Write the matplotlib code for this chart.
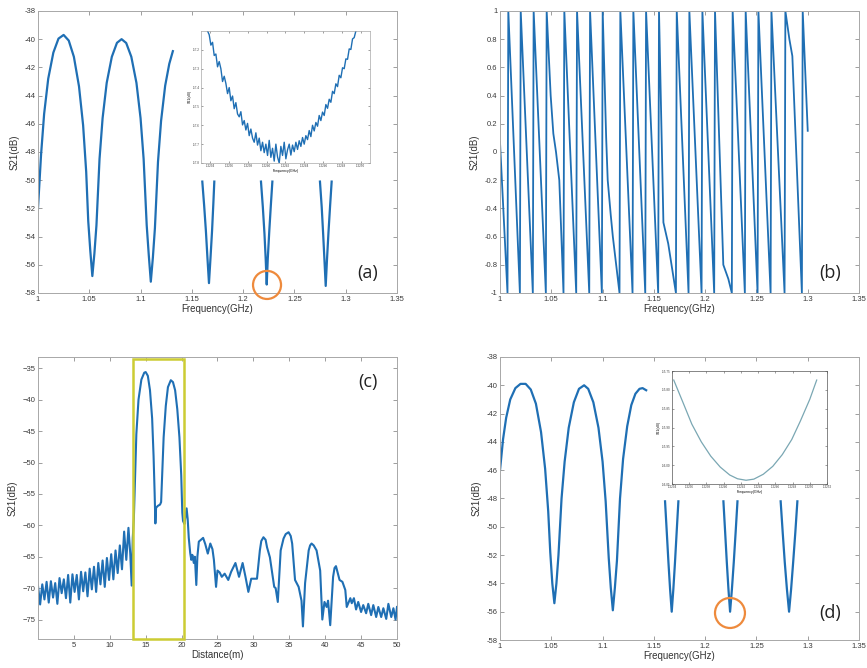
import numpy as np
import matplotlib
matplotlib.use('Agg')
from matplotlib import pyplot as plt
from matplotlib.patches import Ellipse, Rectangle
from matplotlib.ticker import FormatStrFormatter

plt.rcParams['font.family'] = ['Liberation Sans', 'DejaVu Sans']

# ---- (a) measured |S21|, main arches and the three short dip segments
a_f = [1.000, 1.003, 1.006, 1.010, 1.015, 1.020, 1.025, 1.030, 1.035, 1.040,
       1.044, 1.047, 1.049, 1.051, 1.053, 1.055, 1.057, 1.060, 1.063, 1.067,
       1.072, 1.077, 1.0815, 1.086, 1.091, 1.096, 1.100, 1.103, 1.106, 1.108,
       1.110, 1.112, 1.114, 1.117, 1.120, 1.124, 1.128, 1.1315]
a_db = [-52.0, -48.2, -45.3, -42.8, -40.95, -39.96, -39.7, -40.1, -41.25, -43.35,
        -46.1, -49.4, -52.9, -55.0, -56.8, -55.2, -53.2, -48.5, -45.6, -43.1,
        -41.25, -40.26, -40.0, -40.27, -41.25, -43.1, -45.6, -48.5, -53.2, -55.3,
        -57.2, -55.5, -53.4, -48.7, -45.8, -43.3, -41.75, -40.85]
a_dip_f = [[1.1602, 1.1620, 1.1637, 1.1652, 1.1667, 1.1682, 1.1697, 1.1710, 1.1719],
           [1.2174, 1.2192, 1.2208, 1.2220, 1.2230, 1.2240, 1.2255, 1.2270, 1.2285],
           [1.2749, 1.2766, 1.2780, 1.2793, 1.2805, 1.2817, 1.2832, 1.2848, 1.2863]]
a_dip_db = [[-50.1, -51.8, -53.6, -55.5, -57.3, -55.5, -53.6, -51.6, -50.1],
            [-50.1, -51.9, -53.8, -55.6, -57.4, -55.6, -53.6, -51.8, -50.1],
            [-50.1, -51.9, -53.8, -55.7, -57.5, -55.7, -53.7, -51.8, -50.1]]

# inset (a): zoom on the circled dip (noisy)
ia_db = [-57.100, -57.120, -57.175, -57.160, -57.230, -57.222, -57.290, -57.262, -57.300, -57.368,
         -57.340, -57.378, -57.432, -57.400, -57.470, -57.445, -57.512, -57.480, -57.540, -57.555,
         -57.528, -57.598, -57.575, -57.625, -57.590, -57.655, -57.620, -57.668, -57.690, -57.640,
         -57.705, -57.668, -57.735, -57.690, -57.745, -57.700, -57.760, -57.680, -57.770, -57.722,
         -57.790, -57.700, -57.768, -57.800, -57.712, -57.760, -57.690, -57.778, -57.730, -57.700,
         -57.758, -57.705, -57.740, -57.690, -57.728, -57.682, -57.712, -57.665, -57.700, -57.655,
         -57.676, -57.628, -57.660, -57.600, -57.630, -57.585, -57.605, -57.548, -57.575, -57.530,
         -57.548, -57.490, -57.510, -57.462, -57.478, -57.420, -57.432, -57.380, -57.395, -57.335,
         -57.348, -57.295, -57.300, -57.248, -57.250, -57.195, -57.198, -57.142, -57.135, -57.100]
ia_f = np.linspace(1.22337, 1.22495, len(ia_db))
ia_xticks = [1.2234, 1.2236, 1.2238, 1.2240, 1.2242, 1.2244, 1.2246, 1.2248, 1.2250]
ia_yticks = [-57.8, -57.7, -57.6, -57.5, -57.4, -57.3, -57.2]

# ---- (b) wrapped phase
b_f = [1.000, 1.0073, 1.0081, 1.0194, 1.0202, 1.0320, 1.0328, 1.0447, 1.0455,
       1.0494, 1.0520, 1.0546, 1.0578, 1.0619, 1.0627, 1.0743, 1.0751, 1.0870, 1.0878,
       1.0993, 1.1001, 1.1035, 1.1050, 1.1080, 1.1100, 1.1165, 1.1173, 1.1292, 1.1300,
       1.1416, 1.1424, 1.1542, 1.1550, 1.1593, 1.1640, 1.1715, 1.1723, 1.1838, 1.1846,
       1.1965, 1.1973, 1.2088, 1.2096, 1.2177, 1.2226, 1.2260, 1.2268, 1.2387, 1.2395,
       1.2511, 1.2519, 1.2638, 1.2646, 1.2774, 1.2782, 1.2821, 1.2850, 1.2943, 1.2951,
       1.3000]
b_ph = [0.07, -1, 1, -1, 1, -1, 1, -1, 1,
        0.4, 0.13, 0.0, -0.2, -1, 1, -1, 1, -1, 1,
        -1, 1, 0.1, -0.2, -0.45, -0.6, -1, 1, -1, 1,
        -1, 1, -1, 1, -0.5, -0.65, -1, 1, -1, 1,
        -1, 1, -1, 1, -0.8, -0.9, -1, 1, -1, 1,
        -1, 1, -1, 1, -1, 1, 0.8, 0.68, -1, 1,
        0.15]

# ---- (c) time-domain response vs distance
c_d = [0.0, 0.3, 0.6, 0.9, 1.2, 1.5, 1.8, 2.1, 2.4, 2.7, 3.0, 3.3, 3.6, 3.9, 4.2, 4.5,
       4.8, 5.1, 5.4, 5.7, 6.0, 6.3, 6.6, 6.9, 7.2, 7.5, 7.8, 8.1, 8.4, 8.7, 9.0, 9.3,
       9.6, 9.9, 10.2, 10.5, 10.8, 11.1, 11.4, 11.7, 12.0, 12.3, 12.6, 12.85, 13.05,
       13.2, 13.35, 13.5, 13.7, 14.0, 14.4, 14.8, 15.0, 15.3, 15.6, 15.9, 16.1, 16.25,
       16.35, 16.45, 16.7, 17.0, 17.15, 17.3, 17.5, 17.8, 18.1, 18.5, 18.8, 19.1, 19.4,
       19.7, 19.95, 20.1, 20.2, 20.4, 20.55, 20.7, 20.85, 21.0, 21.2, 21.35, 21.5, 21.7,
       21.85, 22.05, 22.2, 22.4, 22.7, 23.0, 23.3, 23.65, 24.0, 24.3, 24.5, 24.8, 25.0,
       25.3, 25.6, 26.0, 26.5, 26.9, 27.5, 28.0, 28.5, 28.9, 29.3, 29.7, 30.5, 30.9,
       31.1, 31.4, 31.7, 31.9, 32.3, 32.9, 33.1, 33.4, 33.8, 34.2, 34.5, 34.9, 35.2,
       35.4, 35.8, 36.3, 36.7, 36.9, 37.2, 37.7, 37.9, 38.1, 38.4, 38.8, 39.3, 39.6,
       39.9, 40.2, 40.4, 40.7, 41.1, 41.3, 41.5, 42.0, 42.4, 42.8, 43.0, 43.5, 43.7,
       44.0, 44.3, 44.6, 45.0, 45.3, 45.7, 46.0, 46.4, 46.7, 47.1, 47.4, 47.8, 48.1,
       48.5, 48.8, 49.2, 49.5, 49.8, 50.0]
c_db = [-69.6, -72.6, -69.4, -71.8, -69.0, -72.3, -68.9, -71.5, -69.2, -72.5, -68.4, -70.8,
        -68.6, -71.6, -67.9, -72.3, -67.8, -70.6, -67.9, -71.8, -67.4, -70.5, -67.5, -71.3,
        -66.9, -70.2, -66.6, -70.6, -66.0, -69.4, -65.6, -69.8, -65.2, -68.7, -64.6, -68.6,
        -64.0, -67.6, -63.2, -67.0, -61.0, -65.5, -60.4, -64.5, -69.6,
        -62.0, -59.0, -53.0, -45.5, -40.0, -36.8, -35.7, -35.6, -36.2, -38.5, -43.0, -49.0,
        -55.0, -59.7, -57.2, -56.9, -56.7, -56.3, -52.0, -46.0, -41.0, -38.0, -36.9, -37.2,
        -38.5, -41.5, -46.0, -52.0, -58.0, -59.3, -59.8, -58.5, -57.3, -59.0, -62.0, -64.4,
        -65.5, -64.7, -66.0, -65.0, -69.5, -65.0, -62.6, -62.3, -62.0, -63.0, -64.5, -62.9,
        -63.8, -65.5, -69.8, -67.2, -67.5, -68.2, -67.7, -68.7, -67.4, -66.0, -68.2, -66.0,
        -68.2, -70.6, -68.5, -68.5, -64.0, -62.5, -61.9, -62.3, -63.5, -65.1, -69.8, -70.0,
        -72.2, -64.0, -62.1, -61.4, -61.1, -61.7, -62.9, -68.7, -69.8, -72.0, -76.1, -69.2,
        -64.0, -63.2, -62.9, -63.2, -64.0, -67.2, -75.0, -72.2, -73.0, -72.0, -75.9, -68.2,
        -66.8, -66.5, -68.7, -69.0, -70.3, -73.0, -71.6, -72.4, -71.6, -73.4, -72.2, -73.8,
        -72.7, -74.0, -72.5, -74.3, -72.7, -74.6, -73.0, -74.6, -73.2, -74.9, -72.5, -74.6,
        -73.2, -75.0, -73.0]
c_window = (13.25, 20.35)

# ---- (d) simulated |S21|
d_f = [1.000, 1.003, 1.006, 1.010, 1.015, 1.020, 1.025, 1.030, 1.035, 1.040,
       1.044, 1.047, 1.049, 1.051, 1.053, 1.055, 1.057, 1.060, 1.063, 1.067,
       1.072, 1.077, 1.082, 1.086, 1.091, 1.096, 1.100, 1.103, 1.106, 1.108,
       1.110, 1.112, 1.114, 1.117, 1.120, 1.124, 1.128, 1.132, 1.136, 1.139, 1.1425]
d_db = [-46.0, -43.8, -42.3, -41.0, -40.2, -39.9, -39.9, -40.3, -41.3, -43.3,
        -45.9, -48.9, -51.8, -54.0, -55.4, -54.0, -52.0, -48.0, -45.4, -43.0,
        -41.2, -40.25, -40.0, -40.25, -41.2, -43.0, -45.4, -48.2, -52.2, -54.3,
        -55.9, -54.3, -52.4, -48.0, -45.2, -42.9, -41.4, -40.6, -40.25, -40.2, -40.35]
d_dip_f = [[1.1609, 1.1626, 1.1642, 1.1658, 1.1674, 1.1690, 1.1706, 1.1722, 1.1739],
           [1.2178, 1.2195, 1.2211, 1.2227, 1.2243, 1.2261, 1.2279, 1.2297, 1.2315],
           [1.2736, 1.2756, 1.2776, 1.2797, 1.2818, 1.2838, 1.2858, 1.2879, 1.2899]]
d_dip_db = [[-48.2, -50.4, -52.5, -54.4, -56.0, -54.4, -52.5, -50.4, -48.2]] * 3

# inset (d): smooth zoom on the circled dip
id_f = [1.22342, 1.22353, 1.22363, 1.22374, 1.22385, 1.22396, 1.22407, 1.22416, 1.22426,
        1.22435, 1.22446, 1.22457, 1.22468, 1.22479, 1.22489, 1.22500, 1.22508]
id_db = [-55.774, -55.835, -55.891, -55.938, -55.976, -56.005, -56.026, -56.036, -56.040,
         -56.037, -56.024, -56.003, -55.972, -55.932, -55.883, -55.825, -55.774]
id_xticks = [1.2234, 1.2236, 1.2238, 1.2240, 1.2242, 1.2244, 1.2246, 1.2248, 1.2250, 1.2252]
id_yticks = [-56.05, -56.0, -55.95, -55.9, -55.85, -55.8, -55.75]

freq_ticks = [1.0, 1.05, 1.1, 1.15, 1.2, 1.25, 1.3, 1.35]
BLUE = '#1f6fb4'
ORANGE = '#ee8a3c'


def matlab_axes(ax, fs=5.5, lw=0.7):
    ax.tick_params(direction='in', top=True, right=True, length=3, width=0.5,
                   labelsize=fs, labelcolor='#3a3a3a', color='#777777', pad=2)
    for s in ax.spines.values():
        s.set_color('#a8a8a8')
        s.set_linewidth(lw)


def freq_axes(ax, ylim, yticks):
    ax.set_xlim(1.0, 1.35)
    ax.set_xticks(freq_ticks)
    ax.set_xticklabels(['%g' % t for t in freq_ticks])
    ax.set_ylim(*ylim)
    ax.set_yticks(yticks)
    ax.set_yticklabels(['%g' % t for t in yticks])
    ax.set_xlabel('Frequency(GHz)', fontsize=7, color='#333333', labelpad=1)
    ax.set_ylabel('S21(dB)', fontsize=7, color='#333333', labelpad=3)
    matlab_axes(ax)


def panel_tag(ax, txt, x, y):
    ax.text(x, y, txt, transform=ax.transAxes, fontsize=13, ha='center', va='center',
            family=['Open Sans', 'DejaVu Sans'], color='#222222')


fig = plt.figure(figsize=(8.67, 6.68), dpi=100)

# (a)
ax_a = fig.add_axes([0.0438, 0.5614, 0.4141, 0.4222])
ax_a.plot(a_f, a_db, color=BLUE, lw=1.6)
for xs, ys in zip(a_dip_f, a_dip_db):
    ax_a.plot(xs, ys, color=BLUE, lw=1.6)
freq_axes(ax_a, (-58, -38), list(range(-58, -37, 2)))
ax_a.add_patch(Ellipse((1.2233, -57.43), 0.0273, 1.99, fill=False, ec=ORANGE, lw=1.6,
                       clip_on=False, zorder=5))
panel_tag(ax_a, '(a)', 0.919, 0.071)

ins_a = fig.add_axes([0.2318, 0.756, 0.1949, 0.1976])
ins_a.plot(ia_f, ia_db, color=BLUE, lw=1.0)
ins_a.set_xlim(1.2233, 1.2251)
ins_a.set_ylim(-57.8, -57.1)
ins_a.set_xticks(ia_xticks)
ins_a.xaxis.set_major_formatter(FormatStrFormatter('%.4f'))
ins_a.set_yticks(ia_yticks)
ins_a.yaxis.set_major_formatter(FormatStrFormatter('%.1f'))
ins_a.set_xlabel('Frequency(GHz)', fontsize=2.5, labelpad=0.5)
ins_a.set_ylabel('S21(dB)', fontsize=2.5, labelpad=0.5)
matlab_axes(ins_a, fs=2.2, lw=0.5)
ins_a.tick_params(length=1.5, pad=1)

# (b)
ax_b = fig.add_axes([0.5767, 0.5614, 0.4141, 0.4222])
ax_b.plot(b_f, b_ph, color=BLUE, lw=1.3)
b_yticks = [-1, -0.8, -0.6, -0.4, -0.2, 0, 0.2, 0.4, 0.6, 0.8, 1]
freq_axes(ax_b, (-1, 1), b_yticks)
panel_tag(ax_b, '(b)', 0.919, 0.071)

# (c)
ax_c = fig.add_axes([0.0438, 0.0434, 0.4141, 0.4222])
ax_c.plot(c_d, c_db, color=BLUE, lw=1.5)
ax_c.set_xlim(0, 50)
ax_c.set_ylim(-78.1, -33.2)
ax_c.set_xticks(list(range(5, 51, 5)))
ax_c.set_yticks(list(range(-75, -34, 5)))
ax_c.set_xlabel('Distance(m)', fontsize=7, color='#333333', labelpad=1)
ax_c.set_ylabel('S21(dB)', fontsize=7, color='#333333', labelpad=3)
matlab_axes(ax_c)
ax_c.add_patch(Rectangle((c_window[0], -78.1), c_window[1] - c_window[0], 44.6,
                         fill=False, ec='#cccc33', lw=1.8, clip_on=False, zorder=4))
panel_tag(ax_c, '(c)', 0.919, 0.911)

# (d)
ax_d = fig.add_axes([0.5767, 0.0419, 0.4141, 0.4237])
ax_d.plot(d_f, d_db, color=BLUE, lw=1.6)
for xs, ys in zip(d_dip_f, d_dip_db):
    ax_d.plot(xs, ys, color=BLUE, lw=1.6)
freq_axes(ax_d, (-58, -38), list(range(-58, -37, 2)))
ax_d.add_patch(Ellipse((1.2242, -56.09), 0.0292, 2.12, fill=False, ec=ORANGE, lw=1.6,
                       clip_on=False, zorder=5))
panel_tag(ax_d, '(d)', 0.919, 0.095)

ins_d = fig.add_axes([0.7751, 0.2754, 0.1788, 0.1692])
ins_d.plot(id_f, id_db, color='#7aa7b3', lw=0.9)
ins_d.set_xlim(1.2234, 1.2252)
ins_d.set_ylim(-56.05, -55.75)
ins_d.set_xticks(id_xticks)
ins_d.xaxis.set_major_formatter(FormatStrFormatter('%.4f'))
ins_d.set_yticks(id_yticks)
ins_d.yaxis.set_major_formatter(FormatStrFormatter('%.2f'))
ins_d.set_xlabel('Frequency(GHz)', fontsize=2.5, labelpad=0.5)
ins_d.set_ylabel('S21(dB)', fontsize=2.5, labelpad=0.5)
matlab_axes(ins_d, fs=2.2, lw=0.5)
ins_d.tick_params(length=1.5, pad=1)
for s in ins_d.spines.values():
    s.set_color('#555555')

fig.savefig('out.png', dpi=100)
